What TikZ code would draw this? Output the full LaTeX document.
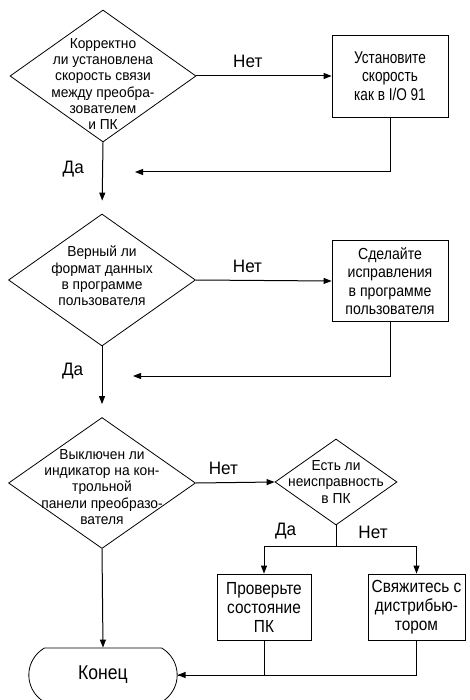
\documentclass[tikz,border=0pt]{standalone}
\usepackage{fontspec}
\setmainfont{Liberation Sans}[FakeStretch=0.95]
\newfontfamily\boxfont{Liberation Sans}[FakeStretch=0.88]
\newfontfamily\narrowfont{Liberation Sans}[FakeStretch=0.8]
\usetikzlibrary{arrows.meta,positioning,shapes.geometric,shapes.misc}

\begin{document}
\begin{tikzpicture}[x=1pt,y=-1pt]
\tikzset{
  decision/.style={diamond,draw,line width=0.8pt,inner sep=0pt},
  action/.style={rectangle,draw,line width=0.8pt,align=center,inner sep=1pt,font=\boxfont\fontsize{16.5}{18.5}\selectfont},
  ending/.style={rounded rectangle,rounded rectangle arc length=120,draw,line width=0.8pt,minimum width=155pt,minimum height=54pt,font=\boxfont\fontsize{20}{22}\selectfont},
  qtext/.style={align=center,font=\fontsize{14.5}{16.3}\selectfont},
  answer/.style={font=\fontsize{18}{20}\selectfont},
  flow/.style={-{Triangle[length=8pt,width=6pt]},line width=1pt},
  plain/.style={line width=1pt}
}
\useasboundingbox (0,0) rectangle (469,700);
\node[decision,minimum width=186pt,minimum height=132pt,
  label={[qtext,yshift=-8pt]center:{Корректно\\ли установлена\\скорость связи\\между преобра-\\зователем\\и ПК}}] (n_Q1) at (103,76) {};
\node[action,minimum width=116pt,minimum height=82pt,font=\narrowfont\fontsize{17}{18.5}\selectfont] (n_B1) at (390,76) {Установите\\скорость\\как в I/O 91};
\node[decision,minimum width=187pt,minimum height=132pt,
  label={[qtext,yshift=4pt]center:{Верный ли\\формат данных\\в программе\\пользователя}}] (n_Q2) at (102,280) {};
\node[action,minimum width=116pt,minimum height=81pt,font=\boxfont\fontsize{16}{18.3}\selectfont] (n_B2) at (390,281) {Сделайте\\исправления\\в программе\\пользователя};
\node[decision,minimum width=187pt,minimum height=131pt,
  label={[qtext,yshift=-4pt]center:{Выключен ли\\индикатор на кон-\\трольной\\панели преобразо-\\вателя}}] (n_Q3) at (102,483) {};
\node[decision,minimum width=122pt,minimum height=86pt,
  label={[qtext]center:{Есть ли\\неисправность\\в ПК}}] (n_Q4) at (336,482) {};
\node[action,minimum width=94pt,minimum height=66pt,font=\boxfont\fontsize{17.5}{19}\selectfont] (n_B3) at (264,607) {Проверьте\\состояние\\ПК};
\node[action,minimum width=97pt,minimum height=66pt,font=\boxfont\fontsize{17.5}{19}\selectfont] (n_B4) at (416.5,607) {Свяжитесь с\\дистрибью-\\тором};
\node[ending] (n_End) at (103,675) {Конец};
\coordinate (c_back1) at (135,172);
\coordinate (c_back2) at (133,376);
\coordinate (c_split) at (336,546);
% first check
\draw[flow] (n_Q1.east) -- node[answer,pos=0.38,above=4pt] {Нет} (n_B1.west);
\draw[flow] (n_B1.south) |- (c_back1);
\draw[flow,shorten >=13pt] (n_Q1.south) -- node[answer,pos=0.37,left=15pt] {Да} (n_Q2.north);
% second check
\draw[flow] (n_Q2.east) -- node[answer,pos=0.38,above=4pt] {Нет} (n_B2.west);
\draw[flow] (n_B2.south) |- (c_back2);
\draw[flow,shorten >=13pt] (n_Q2.south) -- node[answer,pos=0.35,left=15pt] {Да} (n_Q3.north);
% third check
\draw[flow] (n_Q3.east) -- node[answer,pos=0.35,above=4pt] {Нет} (n_Q4.west);
\draw[plain] (n_Q4.south) -- (c_split);
\draw[flow] (c_split) -| node[answer,pos=0.35,above=3pt] {Да} (n_B3.north);
\draw[flow] (c_split) -| node[answer,pos=0.23,above=3pt] {Нет} (n_B4.north);
\draw[flow] (n_Q3.south) -- (n_End.north);
\draw[plain] (n_B3.south) |- (n_End.east);
\draw[flow] (n_B4.south) |- (n_End.east);
\end{tikzpicture}
\end{document}
